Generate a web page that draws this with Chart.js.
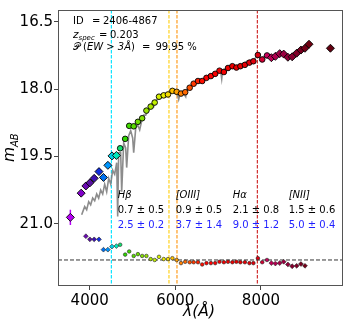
<!DOCTYPE html>
<html>
<head>
<meta charset="utf-8">
<script src="https://cdn.jsdelivr.net/npm/chart.js@4.4.0/dist/chart.umd.min.js"></script>
<style>
  html, body { margin: 0; padding: 0; background: #fff; }
  #sed { display: block; }
</style>
</head>
<body>
<canvas id="sed" width="349" height="327"></canvas>
<script>
// photometry: observed wavelength (Å) and AB magnitude
const photLam = [3549, 3801, 3911, 4005, 4105, 4217, 4322, 4425, 4521, 4624, 4712, 4829, 4923, 5028,
  5126, 5226, 5325, 5425, 5518, 5619, 5729, 5829, 5932, 6032, 6133, 6231, 6336, 6429, 6530, 6628,
  6728, 6831, 6932, 7032, 7135, 7231, 7333, 7427, 7520, 7625, 7731, 7824, 7929, 8030, 8142, 8244,
  8338, 8438, 8532, 8630, 8730, 8835, 8934, 9029, 9123, 9623];
const photMag = [20.86, 20.32, 20.16, 20.09, 19.99, 19.84, 19.97, 19.70, 19.49, 19.48, 19.32, 19.11, 18.82, 18.83,
  18.73, 18.65, 18.48, 18.39, 18.30, 18.17, 18.14, 18.12, 18.04, 18.06, 18.10, 18.07, 17.97, 17.88, 17.82, 17.82,
  17.75, 17.71, 17.66, 17.59, 17.62, 17.53, 17.49, 17.52, 17.49, 17.46, 17.41, 17.38, 17.24, 17.34, 17.25, 17.30,
  17.27, 17.21, 17.22, 17.29, 17.28, 17.20, 17.13, 17.09, 17.00, 17.09];
const photErr = [0.17, 0, 0, 0, 0, 0, 0, 0, 0, 0, 0, 0, 0, 0,
  0, 0, 0, 0, 0, 0, 0, 0, 0, 0, 0, 0, 0, 0, 0, 0,
  0, 0, 0, 0, 0, 0, 0, 0, 0, 0, 0, 0, 0, 0, 0, 0,
  0, 0, 0, 0, 0, 0, 0, 0, 0, 0];

// residuals (mag), first one belongs to photLam[2]; drawn around residZero
const residStart = 2;
const residMag = [-0.53, -0.46, -0.46, -0.46, -0.23, -0.23, -0.30, -0.31, -0.34, -0.12, -0.19, -0.09, -0.13,
  -0.09, -0.09, -0.02, 0.00, -0.07, -0.02, -0.02, -0.04, 0.00, 0.07, 0.04, 0.05, 0.05, 0.05, 0.10, 0.07,
  0.07, 0.07, 0.04, 0.05, 0.04, 0.05, 0.04, 0.05, 0.05, 0.07, 0.07, -0.04, 0.05, 0.00, 0.07, 0.08, 0.07,
  0.04, 0.10, 0.14, 0.13, 0.09, 0.13];
const residZero = 21.81;

// spectrum (grey)
const specLam = [3813, 3883, 3930, 3977, 4023, 4070, 4117, 4164, 4210, 4257, 4304, 4350, 4397, 4444, 4491,
  4537, 4584, 4631, 4654, 4677, 4724, 4748, 4794, 4841, 4864, 4911, 4958, 5004, 5028, 5075, 5121, 5168,
  5215, 5261, 5308, 5355, 5402, 5448, 5495, 5542, 5588, 5635, 5682, 5729, 5775, 5822, 5869, 5916, 5962,
  6009, 6056, 6079, 6102, 6149, 6196, 6243, 6266, 6313, 6359, 6406, 6453, 6500, 6546, 6593, 6640, 6686,
  6733, 6780, 6827, 6873, 6920, 6967, 7013, 7060, 7084, 7107, 7154, 7200, 7247, 7294, 7340, 7387, 7434,
  7481, 7527, 7574, 7621, 7668, 7714, 7761, 7808, 7854, 7901, 7948, 7995, 8041, 8088, 8135, 8181, 8228,
  8275, 8322, 8368, 8415, 8462, 8508, 8555, 8602, 8649, 8695, 8742, 8789, 8836, 8882, 8929, 8976, 9022];
const specMag = [20.80, 20.62, 20.69, 20.51, 20.58, 20.43, 20.49, 20.34, 20.43, 20.25, 20.34, 20.12, 20.29, 19.99, 20.12,
  19.81, 19.90, 19.64, 20.84, 19.42, 19.42, 20.29, 19.20, 19.31, 19.75, 19.04, 18.93, 19.09, 19.42, 18.87, 18.80, 18.91,
  18.71, 18.58, 18.58, 18.49, 18.45, 18.34, 18.39, 18.25, 18.23, 18.21, 18.19, 18.17, 18.14, 18.10, 18.08, 18.06, 18.08,
  18.08, 18.14, 18.23, 18.14, 18.12, 18.10, 18.17, 18.01, 17.97, 17.93, 17.88, 17.86, 17.84, 17.84, 17.79, 17.79, 17.77,
  17.73, 17.73, 17.68, 17.66, 17.64, 17.66, 17.57, 17.60, 17.77, 17.57, 17.55, 17.53, 17.51, 17.51, 17.49, 17.49, 17.49,
  17.46, 17.44, 17.46, 17.42, 17.38, 17.38, 17.36, 17.36, 17.33, 17.27, 17.29, 17.31, 17.29, 17.27, 17.25, 17.27, 17.29,
  17.27, 17.25, 17.22, 17.22, 17.20, 17.20, 17.22, 17.27, 17.27, 17.25, 17.22, 17.18, 17.16, 17.14, 17.11, 17.07, 17.05];

// emission lines (observed Å) and equivalent widths
const lineLam = [4507, 5852, 6039, 7917];
const lineNames = ['Hβ', '[OIII]', 'Hα', '[NII]'];
const ewA = [0.7, 0.9, 2.1, 1.5];
const ewAErr = [0.5, 0.5, 0.8, 0.6];
const ewB = [2.5, 3.7, 9.0, 5.0];
const ewBErr = [0.2, 1.4, 1.2, 0.4];

const xTicks = [4000, 6000, 8000];
const yTicks = [16.5, 18.0, 19.5, 21.0];

// ---- styling ----
const FONT = '"DejaVu Sans"';
const X_MIN = 3260, X_MAX = 9917, Y_MIN = 16.237, Y_MAX = 22.39;
const lineColors = ['#10e4ff', '#ffd21e', '#ff9e22', '#d03030'];
const cmapStops = [[3500, '#c000ff'], [3800, '#8000c8'], [4000, '#5a10a0'], [4100, '#4010b0'], [4220, '#1030e0'],
  [4320, '#0070f0'], [4430, '#0098ff'], [4520, '#00d0e8'], [4620, '#00e8c0'], [4710, '#10e070'], [4830, '#30d800'],
  [5300, '#90e000'], [5550, '#c8f000'], [5750, '#eeee00'], [5930, '#ffc400'], [6130, '#ff8000'], [6340, '#ff5000'],
  [6530, '#ff2000'], [6730, '#ff0000'], [7500, '#e80000'], [7930, '#dd0010'], [8140, '#c8005a'], [8340, '#b00050'],
  [8630, '#900038'], [8930, '#780020'], [9120, '#700010'], [9700, '#600010']];

const hexRgb = h => [1, 3, 5].map(i => parseInt(h.slice(i, i + 2), 16));
function lamColor(l) {
  if (l <= cmapStops[0][0]) return cmapStops[0][1];
  for (let i = 1; i < cmapStops.length; i++) {
    if (l <= cmapStops[i][0]) {
      const t = (l - cmapStops[i - 1][0]) / (cmapStops[i][0] - cmapStops[i - 1][0]);
      const a = hexRgb(cmapStops[i - 1][1]), b = hexRgb(cmapStops[i][1]);
      return 'rgb(' + a.map((v, k) => Math.round(v + (b[k] - v) * t)).join(',') + ')';
    }
  }
  return cmapStops[cmapStops.length - 1][1];
}
const isBroad = l => l < 4680 || l > 8190;

const font = (size, italic) => (italic ? 'italic ' : '') + size + 'px ' + FONT;
function put(ctx, text, x, y, size, italic, color) {
  ctx.font = font(size, italic);
  ctx.fillStyle = color || '#000';
  ctx.fillText(text, x, y);
  return x + ctx.measureText(text).width;
}

const overlay = {
  id: 'overlay',
  beforeDatasetsDraw(chart) {
    const { ctx, scales: { x, y } } = chart;
    ctx.save();
    ctx.lineWidth = 1.5;
    photErr.forEach((e, i) => {
      if (!e) return;
      const px = x.getPixelForValue(photLam[i]);
      ctx.strokeStyle = lamColor(photLam[i]);
      ctx.beginPath();
      ctx.moveTo(px, y.getPixelForValue(photMag[i] - e));
      ctx.lineTo(px, y.getPixelForValue(photMag[i] + e));
      ctx.stroke();
    });
    ctx.restore();
  },
  afterDraw(chart) {
    const { ctx, chartArea: a, scales: { x, y } } = chart;
    ctx.save();
    // frame
    ctx.strokeStyle = '#555';
    ctx.lineWidth = 1;
    ctx.setLineDash([]);
    ctx.strokeRect(a.left + 0.5, a.top + 0.5, a.right - a.left - 1, a.bottom - a.top - 1);

    ctx.textBaseline = 'middle';
    ctx.textAlign = 'left';
    // info block
    const tx = a.left + 15;
    put(ctx, 'ID', tx, a.top + 11, 10);
    put(ctx, '=', tx + 19, a.top + 11, 10);
    put(ctx, '2406-4867', tx + 30, a.top + 11, 10);
    put(ctx, 'z', tx, a.top + 25.5, 10.5, true);
    put(ctx, 'spec', tx + 5.5, a.top + 28.5, 7, true);
    put(ctx, '=', tx + 26, a.top + 25.5, 10);
    put(ctx, '0.203', tx + 37, a.top + 25.5, 10);
    let cx = put(ctx, '𝒫', tx, a.top + 37.5, 10);
    cx = put(ctx, '(', cx + 3, a.top + 37.5, 10);
    cx = put(ctx, 'EW', cx, a.top + 37.5, 10, true);
    cx = put(ctx, ' > ', cx, a.top + 37.5, 10);
    cx = put(ctx, '3Å', cx, a.top + 37.5, 10, true);
    cx = put(ctx, ')', cx, a.top + 37.5, 10);
    cx = put(ctx, '=', Math.max(cx + 3, tx + 69), a.top + 37.5, 10);
    put(ctx, '99.95 %', cx + 5, a.top + 37.5, 10);

    // equivalent widths
    const textLam = [4654, 6009, 7340, 8649];
    lineNames.forEach((n, i) => {
      const px = x.getPixelForValue(textLam[i]);
      put(ctx, n, px, y.getPixelForValue(20.36), 10, true);
      put(ctx, ewA[i].toFixed(1) + ' ± ' + ewAErr[i].toFixed(1), px, y.getPixelForValue(20.71), 10);
      put(ctx, ewB[i].toFixed(1) + ' ± ' + ewBErr[i].toFixed(1), px, y.getPixelForValue(21.03), 10, false, '#1f1fff');
    });

    // axis titles
    ctx.textAlign = 'center';
    put(ctx, 'λ(Å)', 199, 312, 15.5, true);
    ctx.translate(13.5, 162);
    ctx.rotate(-Math.PI / 2);
    ctx.textAlign = 'left';
    ctx.textBaseline = 'alphabetic';
    put(ctx, 'm', 0, 0, 15.5, true);
    put(ctx, 'AB', 15, 4.5, 10, true);
    ctx.restore();
  }
};

const markerStyle = (ctx) => isBroad(ctx.raw.x) ? 'rectRot' : 'circle';
const markerColor = (ctx) => lamColor(ctx.raw.x);

const refLines = lineLam.map((l, i) => ({
  data: [{ x: l, y: Y_MIN }, { x: l, y: Y_MAX }],
  showLine: true,
  borderColor: lineColors[i],
  borderWidth: 1.2,
  borderDash: [3.5, 1.5],
  pointRadius: 0,
  order: 5
}));

new Chart(document.getElementById('sed'), {
  type: 'scatter',
  data: {
    datasets: [
      ...refLines,
      {
        data: [{ x: X_MIN, y: residZero }, { x: X_MAX, y: residZero }],
        showLine: true,
        borderColor: '#333',
        borderWidth: 1,
        borderDash: [4, 2],
        pointRadius: 0,
        order: 4
      },
      {
        label: 'spectrum',
        data: specLam.map((l, i) => ({ x: l, y: specMag[i] })),
        showLine: true,
        borderColor: 'rgba(128,128,128,0.9)',
        borderWidth: 1.6,
        pointRadius: 0,
        order: 3
      },
      {
        label: 'residuals',
        data: residMag.map((r, i) => ({ x: photLam[i + residStart], y: residZero + r })),
        pointStyle: markerStyle,
        pointRadius: ctx => isBroad(ctx.raw.x) ? 2.4 : 1.8,
        backgroundColor: markerColor,
        borderColor: '#222',
        borderWidth: 0.6,
        order: 2
      },
      {
        label: 'photometry',
        data: photLam.map((l, i) => ({ x: l, y: photMag[i] })),
        pointStyle: markerStyle,
        pointRadius: ctx => isBroad(ctx.raw.x) ? 4 : 2.8,
        backgroundColor: markerColor,
        borderColor: '#000',
        borderWidth: 0.9,
        order: 1
      }
    ]
  },
  options: {
    responsive: false,
    animation: false,
    events: [],
    layout: { padding: { top: 5, right: 6, left: 0, bottom: 0 } },
    plugins: { legend: { display: false }, tooltip: { enabled: false } },
    scales: {
      x: {
        type: 'linear',
        min: X_MIN,
        max: X_MAX,
        afterBuildTicks: s => { s.ticks = xTicks.map(v => ({ value: v })); },
        afterFit: s => { s.height = 41; },
        ticks: { font: { family: 'DejaVu Sans', size: 15 }, color: '#000', padding: 2, maxRotation: 0, callback: v => String(v) },
        grid: { drawOnChartArea: false, tickLength: 4, color: '#444' },
        border: { display: false }
      },
      y: {
        type: 'linear',
        reverse: true,
        min: Y_MIN,
        max: Y_MAX,
        afterBuildTicks: s => { s.ticks = yTicks.map(v => ({ value: v })); },
        afterFit: s => { s.width = 58; },
        ticks: { font: { family: 'DejaVu Sans', size: 15 }, color: '#000', padding: 1, callback: v => v.toFixed(1) },
        grid: { drawOnChartArea: false, tickLength: 4, color: '#444' },
        border: { display: false }
      }
    }
  },
  plugins: [overlay]
});
</script>
</body>
</html>
